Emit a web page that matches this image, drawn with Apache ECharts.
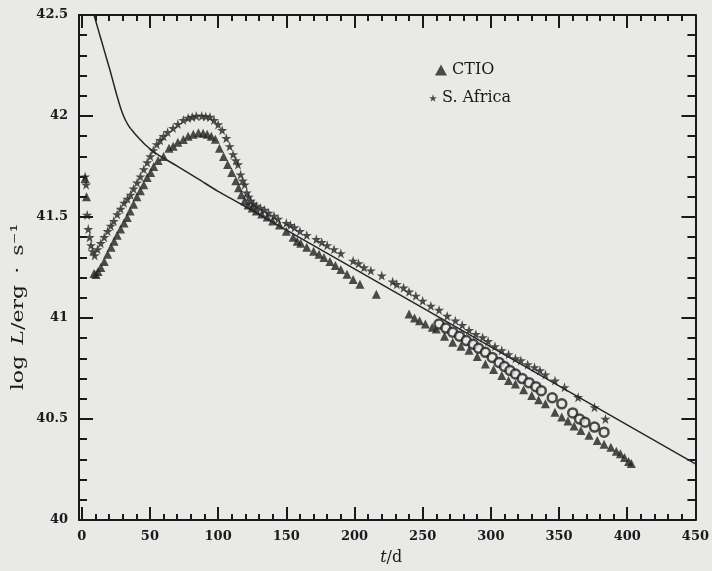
<!DOCTYPE html>
<html>
<head>
<meta charset="utf-8">
<script src="https://cdn.jsdelivr.net/npm/echarts@6.0.0/dist/echarts.min.js"></script>
<style>
  html, body { margin: 0; padding: 0; background: #e9e9e7; }
  #container1 { width: 712px; height: 571px; }
</style>
</head>
<body>
<div id="container1"></div>
<script>
// 刻度
var xMajorTicks = [0, 50, 100, 150, 200, 250, 300, 350, 400, 450];
var xMinorTicks = [10, 20, 30, 40, 60, 70, 80, 90, 110, 120, 130, 140, 160, 170, 180, 190,
    210, 220, 230, 240, 260, 270, 280, 290, 310, 320, 330, 340, 360, 370, 380, 390, 410, 420, 430, 440];
var yMinorTicks = [40.1, 40.2, 40.3, 40.4, 40.6, 40.7, 40.8, 40.9, 41.1, 41.2, 41.3, 41.4,
    41.6, 41.7, 41.8, 41.9, 42.1, 42.2, 42.3, 42.4];

// 模型曲线 [t/d, log L]
var modelLine = [[9, 42.5], [12, 42.43], [15, 42.36], [18, 42.29], [21, 42.22], [24, 42.145],
    [26.5, 42.085], [29, 42.03], [32, 41.98], [35, 41.945], [38, 41.92], [42, 41.89], [47, 41.855],
    [55, 41.812], [70, 41.752], [85, 41.69], [100, 41.627], [117, 41.563],
    [200, 41.243], [300, 40.857], [450, 40.278]];

// CTIO 三角
var ctioData = [[2.5, 41.69], [3.5, 41.60], [9, 41.22], [10.5, 41.215], [12, 41.23], [14, 41.25], [16.5, 41.28],
    [19, 41.316], [21.5, 41.35], [23.7, 41.38], [26, 41.41], [28.5, 41.44], [31, 41.47], [33.4, 41.497],
    [35.5, 41.53], [38, 41.563], [40.5, 41.60], [43, 41.63], [45.5, 41.66], [48, 41.695], [50.5, 41.72],
    [52.8, 41.75], [56, 41.78], [60, 41.80], [64, 41.84], [67, 41.85], [70.5, 41.87], [74.5, 41.884],
    [78, 41.90], [81.8, 41.91], [85.6, 41.917], [89, 41.915], [92, 41.91], [95, 41.90], [98, 41.885],
    [101, 41.84], [104, 41.80], [107, 41.76], [110, 41.72], [113, 41.68], [115, 41.645], [117, 41.61],
    [119.5, 41.58], [122, 41.56], [125, 41.545], [128, 41.53], [132, 41.515], [136, 41.50], [140, 41.48],
    [145, 41.46], [150, 41.43], [155, 41.40], [158, 41.38], [160.6, 41.37], [165, 41.35], [170, 41.33],
    [174, 41.315], [177.6, 41.30], [182, 41.28], [186, 41.26], [190, 41.24], [194.5, 41.217], [199, 41.19],
    [204, 41.167], [216, 41.118], [240, 41.02], [244, 41.0], [247.7, 40.987], [252, 40.97], [257, 40.954],
    [260, 40.945], [266, 40.91], [272, 40.88], [278, 40.86], [284, 40.84], [290, 40.81], [296, 40.772],
    [302, 40.745], [308, 40.715], [313, 40.69], [318, 40.673], [324, 40.645], [330, 40.616], [335, 40.595],
    [340, 40.575], [347, 40.534], [352, 40.51], [356.5, 40.49], [361, 40.465], [366, 40.443], [372, 40.42],
    [378, 40.394], [383, 40.375], [388, 40.36], [392, 40.34], [395, 40.328], [398, 40.31], [401, 40.29], [403, 40.28]];

// S. Africa 星号
var africaData = [[2.5, 41.70], [3.2, 41.66], [4, 41.51], [4.8, 41.44], [5.8, 41.40], [6.8, 41.36], [8, 41.33],
    [9.5, 41.31], [11.6, 41.34], [14, 41.37], [16.5, 41.40], [19, 41.43], [21.3, 41.456], [23.5, 41.48],
    [26, 41.513], [28.5, 41.54], [31, 41.57], [33.5, 41.59], [35.8, 41.61], [38, 41.64], [40.6, 41.67],
    [43, 41.70], [45.5, 41.736], [48, 41.77], [50.3, 41.80], [52.5, 41.83], [55, 41.86], [57.5, 41.88],
    [60, 41.90], [63, 41.92], [67, 41.94], [70.5, 41.96], [74.5, 41.98], [78, 41.99], [81, 41.995],
    [84, 42.0], [88, 42.0], [91, 41.998], [94, 41.995], [97, 41.98], [100, 41.958], [103, 41.93],
    [106, 41.89], [108.5, 41.85], [111, 41.81], [113, 41.78], [114.6, 41.76], [116.5, 41.71], [118, 41.68],
    [119.5, 41.66], [121, 41.62], [122.5, 41.60], [124, 41.58], [126, 41.565], [128, 41.555], [131, 41.545],
    [134, 41.535], [137, 41.52], [141, 41.505], [144, 41.49], [150, 41.47], [153, 41.46], [156, 41.448],
    [160, 41.43], [165, 41.41], [172, 41.39], [176, 41.375], [180, 41.36], [185, 41.34], [190, 41.32],
    [199, 41.283], [203, 41.27], [207, 41.25], [212, 41.235], [220, 41.21], [228, 41.18], [231, 41.167],
    [236, 41.15], [240, 41.13], [245, 41.11], [250, 41.085], [256, 41.06], [262, 41.04], [268, 41.01],
    [274, 40.987], [279, 40.965], [284, 40.94], [289, 40.92], [294, 40.904], [298, 40.885], [303, 40.86],
    [308, 40.84], [313, 40.82], [318, 40.80], [322, 40.79], [327, 40.77], [332, 40.756], [336, 40.74],
    [340, 40.72], [347, 40.69], [354, 40.657], [364, 40.608], [376, 40.558], [384, 40.50]];

// 中间一带 (空心圆)
var middleData = [[262, 40.97], [267, 40.95], [272, 40.93], [277, 40.91], [282, 40.888], [287, 40.87],
    [291, 40.85], [296, 40.83], [301, 40.805], [306, 40.78], [310, 40.76], [314, 40.74], [318, 40.723],
    [323, 40.70], [328, 40.68], [333, 40.66], [337, 40.64], [345, 40.605], [352, 40.575], [360, 40.53],
    [365, 40.50], [369, 40.484], [376, 40.46], [383, 40.435]];

var ink = '#1a1a1a';
var bg = '#e9e9e7';
var serif = 'DejaVu Serif';
var starPath = 'path://M50,0 L61,35 L98,35 L68,57 L79,91 L50,70 L21,91 L32,57 L2,35 L39,35 Z';

//刻度轴 (只画刻度)
function tickAxis(base, extra) {
    return echarts.util.merge(echarts.util.clone(base), extra, true);
}

function Chart1_Init() {
    var myChart = echarts.init(document.getElementById('container1'));
    var xBase = { type: 'value', min: -2, max: 450, splitLine: { show: false }, axisLabel: { show: false } };
    var yBase = { type: 'value', min: 40, max: 42.5, interval: 0.5, splitLine: { show: false }, axisLabel: { show: false } };
    var frame = { show: true, onZero: false, lineStyle: { color: ink, width: 2 } };
    var noLine = { show: false, onZero: false };
    var option = {
        animation: false,
        backgroundColor: bg,
        grid: { left: 79, right: 10, top: 15, bottom: 47 },
        legend: [
            {
                data: ['CTIO'], left: 430, top: 57, icon: 'triangle',
                itemWidth: 12, itemHeight: 11,
                textStyle: { fontFamily: serif, fontSize: 16, color: ink }
            },
            {
                data: [{ name: 'S. Africa', icon: starPath }], left: 424, top: 85,
                itemWidth: 8, itemHeight: 8,
                textStyle: { fontFamily: serif, fontSize: 16, color: ink }
            }
        ],
        xAxis: [
            tickAxis(xBase, {
                position: 'bottom',
                name: '{i|t}/d', nameLocation: 'middle', nameGap: 30,
                nameTextStyle: {
                    fontFamily: serif, fontSize: 16, color: ink, padding: [0, 0, 0, 8],
                    rich: { i: { fontFamily: serif, fontStyle: 'italic', fontSize: 16, color: ink } }
                },
                axisLine: frame,
                axisTick: { inside: true, length: 13, customValues: xMajorTicks, lineStyle: { color: ink, width: 2 } },
                axisLabel: { show: true, customValues: xMajorTicks, margin: 10, fontFamily: serif, fontWeight: 'bold', fontSize: 13, color: ink }
            }),
            tickAxis(xBase, {
                position: 'bottom', axisLine: noLine,
                axisTick: { inside: true, length: 6, customValues: xMinorTicks, lineStyle: { color: ink, width: 2 } }
            }),
            tickAxis(xBase, {
                position: 'top', axisLine: frame,
                axisTick: { inside: true, length: 13, customValues: xMajorTicks, lineStyle: { color: ink, width: 2 } }
            }),
            tickAxis(xBase, {
                position: 'top', axisLine: noLine,
                axisTick: { inside: true, length: 6, customValues: xMinorTicks, lineStyle: { color: ink, width: 2 } }
            })
        ],
        yAxis: [
            tickAxis(yBase, {
                position: 'left', axisLine: frame,
                axisTick: { inside: true, length: 14, lineStyle: { color: ink, width: 2 } },
                axisLabel: { show: true, margin: 11, fontFamily: serif, fontWeight: 'bold', fontSize: 13, color: ink }
            }),
            tickAxis(yBase, {
                position: 'right', axisLine: frame,
                axisTick: { inside: true, length: 14, lineStyle: { color: ink, width: 2 } }
            }),
            tickAxis(yBase, {
                position: 'left', axisLine: noLine,
                axisTick: { inside: true, length: 8, customValues: yMinorTicks, lineStyle: { color: ink, width: 2 } }
            }),
            tickAxis(yBase, {
                position: 'right', axisLine: noLine,
                axisTick: { inside: true, length: 8, customValues: yMinorTicks, lineStyle: { color: ink, width: 2 } }
            })
        ],
        graphic: [
            {
                type: 'text', x: 19, y: 307, rotation: Math.PI / 2, scaleX: 1.3,
                style: {
                    text: '{n|log\u2002}{i|L}{n|/erg\u2002·\u2002s⁻¹}',
                    align: 'center', verticalAlign: 'middle',
                    rich: {
                        n: { fontFamily: serif, fontSize: 17, fill: ink },
                        i: { fontFamily: serif, fontStyle: 'italic', fontSize: 17, fill: ink }
                    }
                }
            }
        ],
        series: [
            {
                name: 'CTIO', type: 'scatter', symbol: 'triangle', symbolSize: 9,
                itemStyle: { color: '#222' }, data: ctioData
            },
            {
                name: 'S. Africa', type: 'scatter', symbol: starPath, symbolSize: 10,
                itemStyle: { color: '#222' }, data: africaData
            },
            {
                name: 'middle', type: 'scatter', symbol: 'circle', symbolSize: 9,
                itemStyle: { color: bg, borderColor: '#222', borderWidth: 2.5 }, data: middleData
            },
            {
                name: 'model', type: 'line', smooth: 0.3, showSymbol: false,
                lineStyle: { color: '#262626', width: 1.5 }, data: modelLine
            }
        ]
    };
    myChart.setOption(option);
}

Chart1_Init();
</script>
</body>
</html>
